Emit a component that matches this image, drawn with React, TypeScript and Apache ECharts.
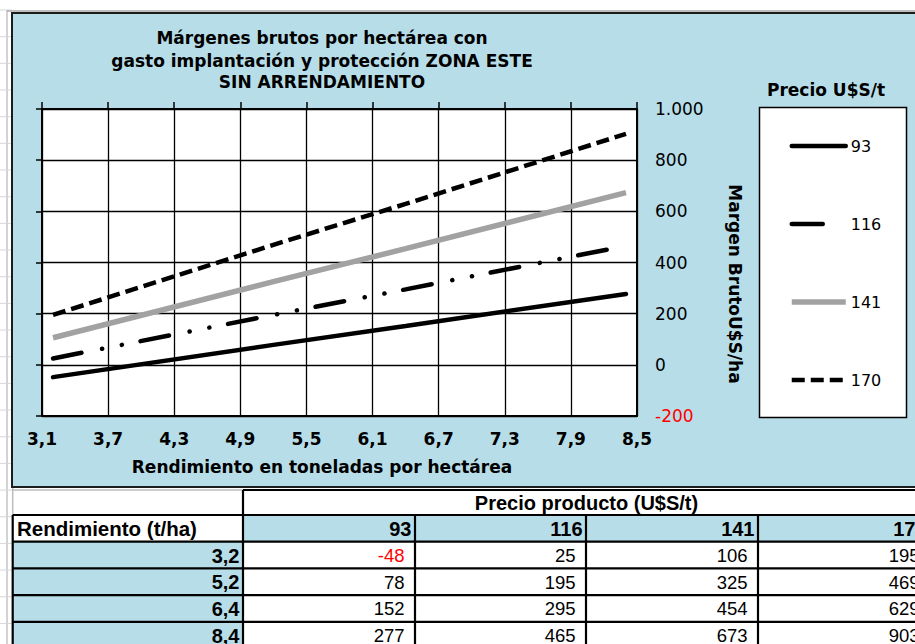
import React, { useEffect, useRef } from "react";
import * as echarts from "echarts";

// ---- data ----
const rendimientos = [3.2, 5.2, 6.4, 8.4];
const precios = [93, 116, 141, 170];
const margen93 = [-48, 78, 152, 277];
const margen116 = [25, 195, 295, 465];
const margen141 = [106, 325, 454, 673];
const margen170 = [195, 469, 629, 903];
const margenes = [margen93, margen116, margen141, margen170];

const X_MIN = 3.1;
const X_MAX = 8.5;
const X_STEP = 0.6;
const Y_MIN = -200;
const Y_MAX = 1000;
const Y_STEP = 200;

const titleLines = [
  "Márgenes brutos por hectárea con",
  "gasto implantación y protección ZONA ESTE",
  "SIN ARRENDAMIENTO",
];
const xAxisTitle = "Rendimiento en toneladas por hectárea";
const yAxisTitle = "Margen BrutoU$S/ha";
const legendTitle = "Precio U$S/t";
const tableTitle = "Precio producto (U$S/t)";
const tableRowHeader = "Rendimiento (t/ha)";

// ---- styles ----
const BLUE = "#b7dee8";
const FONT = "DejaVu Sans";
const TFONT = "Liberation Sans";
const seriesStyles = [
  { color: "#000", width: 4.5, type: "solid" as any, cap: "round" },
  { color: "#000", width: 4.5, type: [29, 21, 0.1, 20, 0.1, 19] as any, cap: "round" },
  { color: "#a2a2a2", width: 5.5, type: "solid" as any, cap: "butt" },
  { color: "#000", width: 4.5, type: [13, 6] as any, cap: "butt" },
];
const legendLineTypes: any[] = [null, [31, 100], null, null];

const fmtX = (v: number) => (v + X_MIN).toFixed(1).replace(".", ",");
const fmtY = (v: number) => String(v).replace(/\B(?=(\d{3})+(?!\d))/g, ".");
const fmtR = (v: number) => v.toFixed(1).replace(".", ",");

function buildGraphic() {
  const els: any[] = [];
  // spreadsheet background lines
  els.push({ type: "line", shape: { x1: 7, y1: 10, x2: 7, y2: 644 }, style: { stroke: "#c4c4c4", lineWidth: 1.5 } });
  for (let k = 0; k < 25; k++) {
    const y = 10 + k * 26.67;
    els.push({ type: "line", shape: { x1: 0, y1: y, x2: 12, y2: y }, style: { stroke: "#d6d6d6", lineWidth: 1 } });
  }
  els.push({ type: "line", shape: { x1: 7, y1: 11, x2: 915, y2: 11 }, style: { stroke: "#a8a8a8", lineWidth: 1.5 } });
  // chart frame
  els.push({
    type: "rect",
    shape: { x: 12, y: 13, width: 930, height: 474 },
    style: { fill: BLUE, stroke: "#1c1c1c", lineWidth: 2 },
  });
  // plot area background
  els.push({ type: "rect", shape: { x: 42, y: 109, width: 595, height: 307 }, style: { fill: "#fff" } });
  // title
  const titleY = [38, 61, 82];
  titleLines.forEach((t, i) =>
    els.push({
      type: "text",
      x: 322,
      y: titleY[i],
      style: { text: t, fill: "#000", fontFamily: FONT, fontWeight: "bold", fontSize: 17, align: "center", verticalAlign: "middle" },
    })
  );
  // axis titles
  els.push({
    type: "text",
    x: 322,
    y: 467,
    style: { text: xAxisTitle, fill: "#000", fontFamily: FONT, fontWeight: "bold", fontSize: 17, align: "center", verticalAlign: "middle" },
  });
  els.push({
    type: "text",
    x: 735,
    y: 284,
    rotation: -Math.PI / 2,
    style: { text: yAxisTitle, fill: "#000", fontFamily: FONT, fontWeight: "bold", fontSize: 17, align: "center", verticalAlign: "middle" },
  });
  // legend box + title
  els.push({ type: "rect", shape: { x: 759.5, y: 107.5, width: 147, height: 310 }, style: { fill: "#fff", stroke: "#000", lineWidth: 1.5 } });
  els.push({
    type: "text",
    x: 826,
    y: 90,
    style: { text: legendTitle, fill: "#000", fontFamily: FONT, fontWeight: "bold", fontSize: 17, align: "center", verticalAlign: "middle" },
  });

  // ---- table ----
  const colX = [12.7, 243, 415, 586, 758, 930];
  const rowY = [490, 515, 541.7, 568.4, 595.1, 621.8, 648.5];
  // fills
  els.push({ type: "rect", shape: { x: 12.7, y: 488, width: 920, height: 160 }, style: { fill: "#fff" } });
  for (let c = 1; c <= 4; c++) {
    els.push({ type: "rect", shape: { x: colX[c], y: rowY[1], width: colX[c + 1] - colX[c], height: rowY[2] - rowY[1] }, style: { fill: BLUE } });
  }
  for (let r = 2; r <= 5; r++) {
    els.push({ type: "rect", shape: { x: colX[0], y: rowY[r], width: colX[1] - colX[0], height: rowY[r + 1] - rowY[r] }, style: { fill: BLUE } });
  }
  // gray gridlines
  els.push({ type: "line", shape: { x1: 12.7, y1: 490, x2: 243, y2: 490 }, style: { stroke: "#bdbdbd", lineWidth: 1.5 } });
  els.push({ type: "line", shape: { x1: 12.7, y1: 488, x2: 12.7, y2: 515 }, style: { stroke: "#bdbdbd", lineWidth: 1.5 } });
  // black borders
  const B = { stroke: "#000", lineWidth: 2.2 };
  els.push({ type: "line", shape: { x1: 243, y1: rowY[0], x2: 930, y2: rowY[0] }, style: B });
  for (let r = 1; r <= 5; r++) {
    els.push({ type: "line", shape: { x1: colX[0], y1: rowY[r], x2: 930, y2: rowY[r] }, style: B });
  }
  els.push({ type: "line", shape: { x1: colX[0], y1: rowY[1], x2: colX[0], y2: 648 }, style: B });
  els.push({ type: "line", shape: { x1: colX[1], y1: rowY[0], x2: colX[1], y2: 648 }, style: B });
  for (let c = 2; c <= 4; c++) {
    els.push({ type: "line", shape: { x1: colX[c], y1: rowY[1], x2: colX[c], y2: 648 }, style: B });
  }
  const mid = (r: number) => (rowY[r] + rowY[r + 1]) / 2 + 0.5;
  // table texts
  els.push({
    type: "text",
    x: (colX[1] + 930) / 2,
    y: mid(0),
    style: { text: tableTitle, fill: "#000", fontFamily: TFONT, fontWeight: "bold", fontSize: 20, align: "center", verticalAlign: "middle" },
  });
  els.push({
    type: "text",
    x: 17,
    y: mid(1),
    style: { text: tableRowHeader, fill: "#000", fontFamily: TFONT, fontWeight: "bold", fontSize: 20.5, align: "left", verticalAlign: "middle" },
  });
  precios.forEach((p, c) =>
    els.push({
      type: "text",
      x: colX[c + 2] - 3.5,
      y: mid(1),
      style: { text: String(p), fill: "#000", fontFamily: TFONT, fontWeight: "bold", fontSize: 20, align: "right", verticalAlign: "middle" },
    })
  );
  rendimientos.forEach((rv, r) => {
    els.push({
      type: "text",
      x: colX[1] - 3.5,
      y: mid(r + 2),
      style: { text: fmtR(rv), fill: "#000", fontFamily: TFONT, fontWeight: "bold", fontSize: 20, align: "right", verticalAlign: "middle" },
    });
    margenes.forEach((m, c) =>
      els.push({
        type: "text",
        x: colX[c + 2] - 10.5,
        y: mid(r + 2),
        style: {
          text: String(m[r]),
          fill: m[r] < 0 ? "#ff0000" : "#000",
          fontFamily: TFONT,
          fontSize: 18.5,
          align: "right",
          verticalAlign: "middle",
        },
      })
    );
  });
  return els;
}

export default function App() {
  const ref = useRef<HTMLDivElement>(null);
  useEffect(() => {
    document.body.style.margin = "0";
    if (!ref.current) return;
    const chart = echarts.init(ref.current, undefined, { renderer: "svg" });
    const axisLine = { show: true, onZero: false, lineStyle: { color: "#000", width: 2 } };
    const option: any = {
      animation: false,
      backgroundColor: "#ffffff",
      textStyle: { fontFamily: FONT },
      grid: { left: 42, right: 278, top: 109, bottom: 228, containLabel: false },
      graphic: { elements: buildGraphic() },
      legend: {
        orient: "vertical",
        left: 784,
        top: 133,
        itemWidth: 54,
        itemHeight: 16,
        itemGap: 62,
        selectedMode: false,
        itemStyle: { opacity: 0 },
        lineStyle: { width: "inherit", type: "inherit", cap: "inherit" },
        textStyle: { fontSize: 16, color: "#000", fontFamily: FONT },
        data: precios.map((p, i) =>
          legendLineTypes[i] ? { name: String(p), lineStyle: { type: legendLineTypes[i] } } : String(p)
        ),
      },
      xAxis: [
        {
          type: "value",
          min: 0,
          max: +(X_MAX - X_MIN).toFixed(1),
          interval: X_STEP,
          position: "bottom",
          axisLine,
          axisTick: { show: false },
          axisLabel: { margin: 14, color: "#000", fontWeight: "bold", fontSize: 17, fontFamily: FONT, formatter: fmtX },
          splitLine: { show: true, lineStyle: { color: "#000", width: 1.3 } },
        },
        {
          type: "value",
          min: 0,
          max: +(X_MAX - X_MIN).toFixed(1),
          interval: X_STEP,
          position: "top",
          axisLine,
          axisTick: { show: true, inside: false, length: 7, lineStyle: { color: "#000", width: 1.5 } },
          axisLabel: { show: false },
          splitLine: { show: false },
        },
      ],
      yAxis: [
        {
          type: "value",
          min: Y_MIN,
          max: Y_MAX,
          interval: Y_STEP,
          position: "right",
          axisLine,
          axisTick: { show: false },
          axisLabel: {
            margin: 18,
            fontSize: 17,
            fontFamily: FONT,
            color: (v: any) => (Number(v) < 0 ? "#ff0000" : "#000"),
            formatter: fmtY,
          },
          splitLine: { show: true, lineStyle: { color: "#000", width: 1.3 } },
        },
        {
          type: "value",
          min: Y_MIN,
          max: Y_MAX,
          interval: Y_STEP,
          position: "left",
          axisLine,
          axisTick: { show: true, inside: false, length: 6, lineStyle: { color: "#000", width: 1.5 } },
          axisLabel: { show: false },
          splitLine: { show: false },
        },
      ],
      series: precios.map((p, i) => ({
        name: String(p),
        type: "line",
        xAxisIndex: 0,
        yAxisIndex: 0,
        symbol: "none",
        z: 3,
        lineStyle: {
          color: seriesStyles[i].color,
          width: seriesStyles[i].width,
          type: seriesStyles[i].type,
          cap: seriesStyles[i].cap,
        },
        itemStyle: { color: seriesStyles[i].color },
        data: rendimientos.map((r, k) => [+(r - X_MIN).toFixed(2), margenes[i][k]]),
      })),
    };
    chart.setOption(option);
    return () => chart.dispose();
  }, []);
  return <div ref={ref} style={{ width: 915, height: 644 }} />;
}
